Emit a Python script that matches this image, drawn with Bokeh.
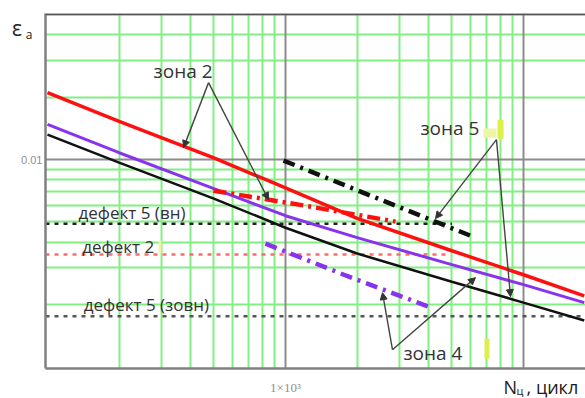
from bokeh.plotting import figure
from bokeh.models import FixedTicker, Grid, Label, Arrow, NormalHead, Span
from bokeh.embed import file_html
from bokeh.resources import INLINE

# ---------------- data ----------------
cycles = [100, 200, 500, 1000, 2000, 5000, 10000, 18000]
eps_red = [0.0211, 0.0153, 0.0102, 0.0073, 0.0052, 0.00363, 0.00278, 0.00220]
eps_purple = [0.0148, 0.0108, 0.00725, 0.00536, 0.0042, 0.00311, 0.00249, 0.00204]
eps_black = [0.0132, 0.00967, 0.00648, 0.00469, 0.00352, 0.00257, 0.00204, 0.00167]

zone_black_n = [981, 2483, 6280]
zone_black_eps = [0.0099, 0.00644, 0.0042]
zone_red_n = [498, 1202, 2900]
zone_red_eps = [0.00708, 0.0060, 0.00502]
zone_purple_n = [824, 1803, 3990]
zone_purple_eps = [0.00393, 0.00275, 0.00195]

defect_labels = ["дефект 5 (вн)", "дефект 2", "дефект 5 (зовн)"]
defect_eps = [0.0049, 0.00348, 0.00175]
defect_end_n = [5000, 4800, 18200]
defect_label_n = [135, 140, 142]
defect_label_eps = [0.00555, 0.0038, 0.00199]

zone_labels = ["зона 2", "зона 5", "зона 4"]
zone_label_n = [279, 3690, 3130]
zone_label_eps = [0.0269, 0.01427, 0.001168]
# arrows: apex -> target points
zone_apex_n = [475, 7700, 2815]
zone_apex_eps = [0.02355, 0.01249, 0.001208]
zone_targets = [
    [(373, 0.01143), (848, 0.00641)],
    [(4269, 0.00519), (8818, 0.00218)],
    [(2556, 0.002278), (6284, 0.002692)],
]

x_major = [1000, 10000]
x_minor = [200, 300, 400, 500, 600, 700, 800, 900,
           2000, 3000, 4000, 5000, 6000, 7000, 8000, 9000]
y_major = [0.01]
y_minor = [0.002, 0.003, 0.004, 0.005, 0.006, 0.007, 0.008, 0.009,
           0.02, 0.03, 0.04, 0.05]
x_tick_labels = {1000: "1×10³"}
y_tick_labels = {0.01: "0.01"}

# ---------------- figure ----------------
p = figure(x_axis_type="log", y_axis_type="log",
           x_range=(98.1, 18220), y_range=(0.00098, 0.0508),
           frame_width=540, frame_height=355,
           min_border_left=45, min_border_right=0, min_border_top=13,
           min_border_bottom=30,
           output_backend="svg", toolbar_location=None)
p.outline_line_color = None
p.background_fill_color = "white"
p.border_fill_color = "white"

GREEN = "#82ef82"
GRAY = "#8c8c8c"

p.xgrid[0].ticker = FixedTicker(ticks=x_minor)
p.xgrid[0].grid_line_color = GREEN
p.xgrid[0].grid_line_width = 2
p.ygrid[0].ticker = FixedTicker(ticks=y_minor)
p.ygrid[0].grid_line_color = GREEN
p.ygrid[0].grid_line_width = 2
p.add_layout(Grid(dimension=0, ticker=FixedTicker(ticks=x_major),
                  grid_line_color=GRAY, grid_line_width=2))
p.add_layout(Grid(dimension=1, ticker=FixedTicker(ticks=y_major),
                  grid_line_color=GRAY, grid_line_width=2))

p.xaxis.ticker = FixedTicker(ticks=[1000])
p.xaxis.major_label_overrides = x_tick_labels
p.yaxis.ticker = FixedTicker(ticks=y_major)
p.yaxis.major_label_overrides = y_tick_labels
for ax in (p.xaxis, p.yaxis):
    ax.axis_line_color = "#808080"
    ax.axis_line_width = 2.5
    ax.major_tick_in = 0
    ax.major_tick_out = 0
    ax.minor_tick_line_color = None
    ax.major_label_text_color = "#8f8f8f"
p.xaxis.major_label_text_font = "Liberation Serif"
p.xaxis.major_label_text_font_size = "13px"
p.xaxis.major_label_standoff = 11
p.yaxis.major_label_text_font = "Liberation Sans"
p.yaxis.major_label_text_font_size = "11px"
p.yaxis.major_label_standoff = 3

p.add_layout(Span(location=0.0504, dimension="width", line_color="#555555",
                  line_width=2))

# ---------------- horizontal defect levels ----------------
defect_colors = ["#222222", "#ff6a6a", "#555555"]
for lvl, xe, c in zip(defect_eps, defect_end_n, defect_colors):
    p.line([98.1, xe], [lvl, lvl], line_color=c, line_width=2.5,
           line_dash="4 5")

# ---------------- main curves ----------------
p.line(cycles, eps_red, line_color="#ff1010", line_width=3.5)
p.line(cycles, eps_purple, line_color="#8a33ee", line_width=3)
p.line(cycles, eps_black, line_color="#111111", line_width=2.5)

# ---------------- zone (dash-dot) lines ----------------
p.line(zone_black_n, zone_black_eps, line_color="#111111", line_width=4.5,
       line_dash="12 6 3 6")
p.line(zone_red_n, zone_red_eps, line_color="#ff1010", line_width=4.5,
       line_dash="13 5 3 5")
p.line(zone_purple_n, zone_purple_eps, line_color="#8a33ee", line_width=4.5,
       line_dash="12 6 3 6")

# ---------------- yellow marks ----------------
p.quad(left=[7776, 6791, 6857, 293], right=[8246, 7700, 7194, 301],
       bottom=[0.01263, 0.01277, 0.001093, 0.00351],
       top=[0.0156, 0.01412, 0.001366, 0.00406],
       fill_color=["#dcef4a", "#eef5a8", "#dcef4a", "#f2f2a8"],
       line_color=None)

# ---------------- labels ----------------
TXT = "#333333"
for t, xn, ye in zip(defect_labels, defect_label_n, defect_label_eps):
    p.add_layout(Label(x=xn, y=ye, text=t, text_font="Open Sans",
                       text_font_size="17px", text_color=TXT,
                       text_baseline="middle", text_align="left"))
for t, xn, ye in zip(zone_labels, zone_label_n, zone_label_eps):
    p.add_layout(Label(x=xn, y=ye, text=t, text_font="Open Sans",
                       text_font_size="19px", text_color=TXT,
                       text_baseline="middle", text_align="left"))

for ax_, ay_, tg in zip(zone_apex_n, zone_apex_eps, zone_targets):
    for tx, ty in tg:
        p.add_layout(Arrow(x_start=ax_, y_start=ay_, x_end=tx, y_end=ty,
                           line_color="#444444", line_width=1.4,
                           end=NormalHead(size=7, fill_color="#333333",
                                          line_color="#333333")))

# axis titles (outside the frame -> side panels)
p.add_layout(Label(x=71, y=0.0431, text="ε", text_font="Open Sans",
                   text_font_size="21px", text_color="#222222",
                   text_baseline="middle", text_align="left"), "left")
p.add_layout(Label(x=81, y=0.0400, text="а", text_font="Open Sans",
                   text_font_size="12px", text_color="#222222",
                   text_baseline="middle", text_align="left"), "left")
p.add_layout(Label(x=8250, y=0.00080, text="N", text_font="Open Sans",
                   text_font_size="18px", text_color="#1a1a1a",
                   text_baseline="middle", text_align="left"), "below")
p.add_layout(Label(x=9350, y=0.000765, text="ц", text_font="Open Sans",
                   text_font_size="11px", text_color="#1a1a1a",
                   text_baseline="middle", text_align="left"), "below")
p.add_layout(Label(x=10300, y=0.00080, text=", цикл", text_font="Open Sans",
                   text_font_size="18px", text_color="#1a1a1a",
                   text_baseline="middle", text_align="left"), "below")

open("out.html", "w").write(file_html(p, INLINE))
